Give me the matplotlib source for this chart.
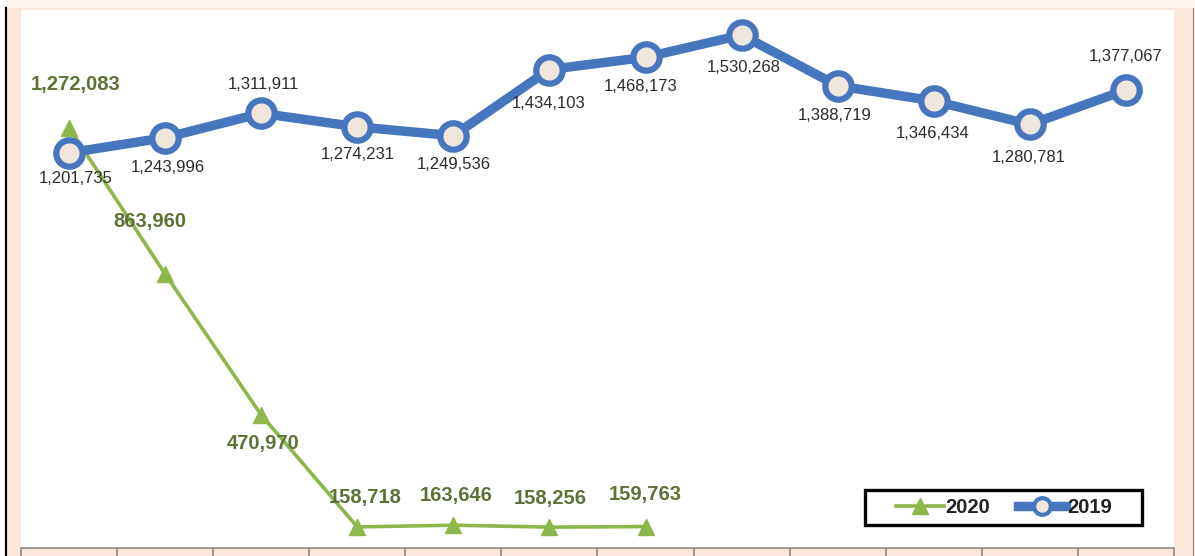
import matplotlib
matplotlib.use("Agg")
import matplotlib.pyplot as plt
from matplotlib.lines import Line2D
from matplotlib.patches import Rectangle

categories = ["Jan", "Feb", "Mar", "Apr", "May", "Jun", "Jul", "Aug", "Sep", "Oct", "Nov", "Dec"]
values_2019 = [1201735, 1243996, 1311911, 1274231, 1249536, 1434103, 1468173,
               1530268, 1388719, 1346434, 1280781, 1377067]
values_2020 = [1272083, 863960, 470970, 158718, 163646, 158256, 159763]
labels_2019 = ["1,201,735", "1,243,996", "1,311,911", "1,274,231", "1,249,536", "1,434,103",
               "1,468,173", "1,530,268", "1,388,719", "1,346,434", "1,280,781", "1,377,067"]
labels_2020 = ["1,272,083", "863,960", "470,970", "158,718", "163,646", "158,256", "159,763"]

# label offsets in pixels (dx, dy)
off_2019 = [(7, -26), (3, -30), (2, 29), (0, -28), (0, -29), (-1, -34), (-5, -29),
            (2, -32), (-3, -30), (-1, -33), (-1, -33), (0, 33)]
off_2020 = [(7, 43), (-15, 52), (2, -29), (8, 29), (3, 30), (1, 29), (0, 32)]

W, H = 1195, 556
PEACH = "#FCE8DA"
BLUE = "#4677BE"
GREEN = "#8CB84B"
GTEXT = "#5E7236"

fig = plt.figure(figsize=(W / 100, H / 100), dpi=100, facecolor=PEACH)
fig.add_artist(Rectangle((0, 1 - 8 / H), 1, 8 / H, transform=fig.transFigure,
                         facecolor="#FEF6F0", edgecolor="none", zorder=0))
fig.add_artist(Rectangle((0, 0), 6 / W, 1, transform=fig.transFigure,
                         facecolor="white", edgecolor="none", zorder=0))
fig.add_artist(Line2D([6.5 / W, 6.5 / W], [0, 1 - 8 / H], transform=fig.transFigure,
                      color="black", lw=1.6))
fig.add_artist(Line2D([1192.5 / W, 1192.5 / W], [0, 1 - 8 / H], transform=fig.transFigure,
                      color="#888888", lw=0.8))

ax = fig.add_axes([21 / W, 8 / H, (1174 - 21) / W, (548 - 8 - 2) / H])
ax.set_facecolor("white")

x = list(range(len(categories)))
x20 = x[:len(values_2020)]

ax.plot(x20, values_2020, color=GREEN, lw=2.6, marker="^", markersize=11,
        markerfacecolor=GREEN, markeredgecolor=GREEN, label="2020", zorder=3)
ax.plot(x, values_2019, color=BLUE, lw=6.8, marker="o", markersize=19,
        markerfacecolor="#EFE6DB", markeredgecolor=BLUE, markeredgewidth=4.5,
        label="2019", zorder=4)

for xi, v, lab, (dx, dy) in zip(x20, values_2020, labels_2020, off_2020):
    ax.annotate(lab, (xi, v), xytext=(dx, dy), textcoords="offset pixels",
                ha="center", va="center", fontsize=14.5, fontweight="bold",
                color=GTEXT, family="Liberation Sans", zorder=5)
for xi, v, lab, (dx, dy) in zip(x, values_2019, labels_2019, off_2019):
    ax.annotate(lab, (xi, v), xytext=(dx, dy), textcoords="offset pixels",
                ha="center", va="center", fontsize=12, color="#2B2B2B",
                family="Liberation Sans", zorder=5)

ax.set_xlim(-0.5, len(categories) - 0.5)
ax.set_ylim(100000, 1600000)
ax.set_yticks([])
ax.set_xticks([i - 0.5 for i in range(len(categories) + 1)])
ax.set_xticklabels([])
ax.tick_params(axis="x", direction="out", length=8, width=1.2, color="#8A8A8A")
for s in ["top", "left", "right"]:
    ax.spines[s].set_visible(False)
ax.spines["bottom"].set_color("#8A8A8A")
ax.spines["bottom"].set_linewidth(1.2)

# legend frame drawn separately (wide horizontal padding)
fig.add_artist(Rectangle((865 / W, 1 - 525 / H), (1142 - 865) / W, 35 / H,
                         transform=fig.transFigure, facecolor="white",
                         edgecolor="black", lw=2.4, zorder=6))
leg = fig.legend(*ax.get_legend_handles_labels(), loc="center",
                 bbox_to_anchor=(1004 / W, 1 - 507.5 / H), ncol=2,
                 frameon=False, handlelength=2.4, handletextpad=0.05,
                 columnspacing=1.4, borderpad=0.2,
                 prop={"family": "Liberation Sans", "weight": "bold", "size": 14.5})
leg.set_zorder(7)
for t in leg.get_texts():
    t.set_color("#222222")
leg.legend_handles[1].set_markersize(12)
leg.legend_handles[1].set_markeredgewidth(3)

fig.savefig("out.png", dpi=100, facecolor=PEACH)
